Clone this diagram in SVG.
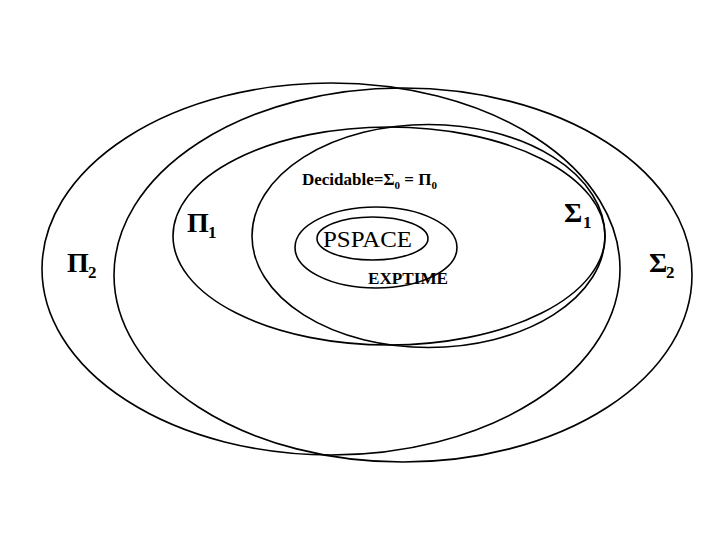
<svg xmlns="http://www.w3.org/2000/svg" width="720" height="540" viewBox="0 0 720 540">
<style>
.set{fill:none;stroke:#000;stroke-width:1.6}
.lbl{font-family:"Liberation Serif","Times New Roman",serif;fill:#000}
.greek{font-size:28px;font-weight:bold}
.sub{font-size:17px;font-weight:bold}
</style>
<rect width="720" height="540" fill="#fff"/>
<g id="pi2">
<ellipse class="set" cx="331" cy="269" rx="289" ry="186"/>
<text class="lbl greek" x="67" y="272">Π</text>
<text class="lbl sub" x="88" y="278">2</text>
</g>
<g id="sigma2">
<ellipse class="set" cx="403" cy="275" rx="289" ry="187"/>
<text class="lbl greek" x="649" y="272">Σ</text>
<text class="lbl sub" x="666" y="278">2</text>
</g>
<g id="pi1">
<ellipse class="set" cx="389" cy="236" rx="216" ry="109"/>
<text class="lbl greek" x="187" y="232">Π</text>
<text class="lbl sub" x="208" y="238">1</text>
</g>
<g id="sigma1">
<ellipse class="set" cx="428.5" cy="236" rx="176.5" ry="111.5"/>
<text class="lbl greek" x="564" y="222">Σ</text>
<text class="lbl sub" x="583" y="228">1</text>
</g>
<g id="decidable">
<text class="lbl" x="302" y="185" font-size="17" font-weight="bold">Decidable=Σ<tspan font-size="11" dy="4">0</tspan><tspan dy="-4"> = Π</tspan><tspan font-size="11" dy="4">0</tspan></text>
</g>
<g id="exptime">
<ellipse class="set" cx="376" cy="247.5" rx="81" ry="40.5"/>
<text class="lbl" x="368" y="284" font-size="16" font-weight="bold" textLength="80" lengthAdjust="spacingAndGlyphs">EXPTIME</text>
</g>
<g id="pspace">
<ellipse class="set" cx="372.5" cy="238.5" rx="55.5" ry="21.5"/>
<text class="lbl" x="323" y="247" font-size="23" textLength="89" lengthAdjust="spacingAndGlyphs">PSPACE</text>
</g>
<g id="connectors"/>
</svg>
